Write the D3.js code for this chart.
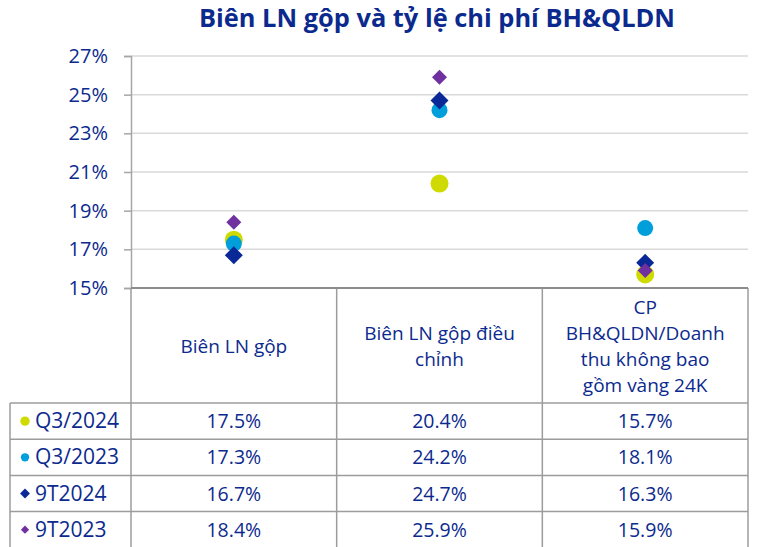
<!DOCTYPE html>
<html>
<head>
<meta charset="utf-8">
<script src="https://cdn.jsdelivr.net/npm/d3@7"></script>
<style>
  body { margin: 0; background: #fff; }
  svg text { font-family: "Open Sans", sans-serif; fill: #0c2a8e; }
</style>
</head>
<body>
<svg width="758" height="547"></svg>
<script>
// categories (columns of the table)
var categories = ["Biên LN gộp", "Biên LN gộp điều chỉnh", "CP BH&QLDN/Doanh thu không bao gồm vàng 24K"];
var headerLines = [["Biên LN gộp"], ["Biên LN gộp điều", "chỉnh"], ["CP", "BH&QLDN/Doanh", "thu không bao", "gồm vàng 24K"]];
var seriesNames = ["Q3/2024", "Q3/2023", "9T2024", "9T2023"];
var q3_2024 = [17.5, 20.4, 15.7];
var q3_2023 = [17.3, 24.2, 18.1];
var t9_2024 = [16.7, 24.7, 16.3];
var t9_2023 = [18.4, 25.9, 15.9];
var yTicks = [15, 17, 19, 21, 23, 25, 27];

var series = [
  {name: seriesNames[0], values: q3_2024, color: "#cfdb00", shape: "circle", size: 9},
  {name: seriesNames[1], values: q3_2023, color: "#009fdc", shape: "circle", size: 8},
  {name: seriesNames[2], values: t9_2024, color: "#0a2896", shape: "diamond", size: 9},
  {name: seriesNames[3], values: t9_2023, color: "#7030a0", shape: "diamond", size: 7.5}
];

var svg = d3.select("svg");
var plotLeft = 131, plotRight = 748, plotTop = 56, plotBottom = 288;
var rowTop = 403, rowH = 36.2, tableLeft = 10;

var x = d3.scaleBand().domain(categories).range([plotLeft, plotRight]);
var y = d3.scaleLinear().domain([15, 27]).range([plotBottom, plotTop]);

// title
svg.append("text")
  .attr("x", 437).attr("y", 27)
  .attr("text-anchor", "middle")
  .style("font-size", "25px").style("font-weight", "bold")
  .attr("textLength", 476).attr("lengthAdjust", "spacingAndGlyphs")
  .text("Biên LN gộp và tỷ lệ chi phí BH&QLDN");

// gridlines
svg.append("g").selectAll("line")
  .data(yTicks.slice(1))
  .enter().append("line")
  .attr("x1", plotLeft).attr("x2", plotRight)
  .attr("y1", function(d) { return y(d); }).attr("y2", function(d) { return y(d); })
  .attr("stroke", "#d9d9d9").attr("stroke-width", 1.5);

// y axis
var yAxis = svg.append("g")
  .attr("transform", "translate(" + plotLeft + ",0)")
  .call(d3.axisLeft(y).tickValues(yTicks).tickSize(7).tickPadding(16)
    .tickFormat(function(d) { return d + "%"; }));
yAxis.select(".domain").attr("stroke", "#a6a6a6").attr("stroke-width", 1.5);
yAxis.selectAll(".tick line").attr("stroke", "#a6a6a6").attr("stroke-width", 1.5);
yAxis.selectAll(".tick text").style("font-size", "20px").attr("fill", "#0c2a8e")
  .style("font-family", "'Open Sans', sans-serif");

// table grid
var tg = svg.append("g").attr("stroke", "#9c9c9c").attr("stroke-width", 1.5).attr("fill", "none");
var edges = categories.map(function(c) { return x(c); }).concat([plotRight]);
var tableBottom = rowTop + rowH * seriesNames.length;
edges.forEach(function(ex) {
  tg.append("line").attr("x1", ex).attr("x2", ex).attr("y1", plotBottom).attr("y2", tableBottom);
});
tg.append("line").attr("x1", tableLeft).attr("x2", tableLeft).attr("y1", rowTop).attr("y2", tableBottom);
seriesNames.forEach(function(s, i) {
  tg.append("line").attr("x1", tableLeft).attr("x2", plotRight)
    .attr("y1", rowTop + i * rowH).attr("y2", rowTop + i * rowH);
});
svg.append("line").attr("x1", plotLeft).attr("x2", plotRight).attr("y1", plotBottom).attr("y2", plotBottom)
  .attr("stroke", "#8c8c8c").attr("stroke-width", 2);

// header text
categories.forEach(function(c, i) {
  var lines = headerLines[i];
  var cy = (plotBottom + rowTop) / 2;
  var lh = 26;
  var t = svg.append("text").attr("text-anchor", "middle").style("font-size", "19px");
  lines.forEach(function(l, j) {
    t.append("tspan")
      .attr("x", x(c) + x.bandwidth() / 2)
      .attr("y", cy + (j - (lines.length - 1) / 2) * lh + 7)
      .text(l);
  });
});

// rows
function marker(sel, d, cx, cy, scale) {
  if (d.shape === "circle") {
    sel.append("circle").attr("cx", cx).attr("cy", cy).attr("r", d.size * scale).attr("fill", d.color);
  } else {
    var s = d.size * scale;
    sel.append("path")
      .attr("d", "M" + cx + "," + (cy - s) + "L" + (cx + s) + "," + cy + "L" + cx + "," + (cy + s) + "L" + (cx - s) + "," + cy + "Z")
      .attr("fill", d.color);
  }
}

series.forEach(function(s, i) {
  var cy = rowTop + i * rowH + rowH / 2;
  marker(svg, s, 25, cy, s.shape === "circle" ? 0.52 : 0.55);
  svg.append("text").attr("x", 35).attr("y", cy + 7).style("font-size", "21px").text(s.name);
  s.values.forEach(function(v, j) {
    svg.append("text").attr("x", x(categories[j]) + x.bandwidth() / 2).attr("y", cy + 7)
      .attr("text-anchor", "middle").style("font-size", "19.5px").text(v.toFixed(1) + "%");
  });
});

// points
series.forEach(function(s) {
  var g = svg.append("g");
  s.values.forEach(function(v, j) {
    marker(g, s, x(categories[j]) + x.bandwidth() / 2, y(v), 1);
  });
});
</script>
</body>
</html>
